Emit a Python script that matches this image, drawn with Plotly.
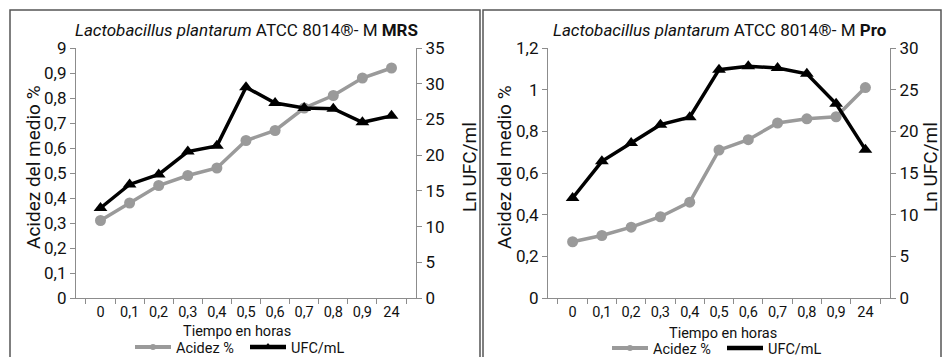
import plotly.graph_objects as go

# ---------------- data ----------------
categories = ["0", "0,1", "0,2", "0,3", "0,4", "0,5", "0,6", "0,7", "0,8", "0,9", "24"]

mrs_acidez = [0.31, 0.38, 0.45, 0.49, 0.52, 0.63, 0.67, 0.76, 0.81, 0.88, 0.92]
mrs_ufc = [12.6, 15.9, 17.3, 20.5, 21.3, 29.5, 27.3, 26.6, 26.5, 24.6, 25.5]

pro_acidez = [0.27, 0.30, 0.34, 0.39, 0.46, 0.71, 0.76, 0.84, 0.86, 0.87, 1.01]
pro_ufc = [12.0, 16.4, 18.6, 20.8, 21.7, 27.4, 27.8, 27.6, 26.9, 23.3, 17.8]

mrs_left_tickvals = [0, 0.1, 0.2, 0.3, 0.4, 0.5, 0.6, 0.7, 0.8, 0.9, 1.0]
mrs_left_ticktext = ["0", "0,1", "0,2", "0,3", "0,4", "0,5", "0,6", "0,7", "0,8", "0,9", "9"]
mrs_right_tickvals = [0, 5, 10, 15, 20, 25, 30, 35]

pro_left_tickvals = [0, 0.2, 0.4, 0.6, 0.8, 1.0, 1.2]
pro_left_ticktext = ["0", "0,2", "0,4", "0,6", "0,8", "1", "1,2"]
pro_right_tickvals = [0, 5, 10, 15, 20, 25, 30]

title_mrs = "<i>Lactobacillus plantarum</i> ATCC 8014®- M <b>MRS</b>"
title_pro = "<i>Lactobacillus plantarum</i> ATCC 8014®- M <b>Pro</b>"
xtitle = "Tiempo en horas"
ylabel_left = "Acidez del medio %"
ylabel_right = "Ln UFC/ml"
name_acid = "Acidez %"
name_ufc = "UFC/mL"

# ---------------- style ----------------
FONT = "Roboto, sans-serif"
GREY = "#9a9a9a"
AXC = "#8c8c8c"
TXT = "#111"
W, H = 945, 357


def px_x(v):
    return v / W


def px_y(v):
    return 1 - v / H


fig = go.Figure()

# left panel
fig.add_trace(go.Scatter(x=categories, y=mrs_acidez, name=name_acid, mode="lines+markers",
                         line=dict(color=GREY, width=3.5), marker=dict(symbol="circle", size=11, color=GREY),
                         xaxis="x", yaxis="y", showlegend=False))
fig.add_trace(go.Scatter(x=categories, y=mrs_ufc, name=name_ufc, mode="lines+markers",
                         line=dict(color="black", width=3.5), marker=dict(symbol="triangle-up", size=12, color="black"),
                         xaxis="x", yaxis="y2", showlegend=False))
# right panel
fig.add_trace(go.Scatter(x=categories, y=pro_acidez, name=name_acid, mode="lines+markers",
                         line=dict(color=GREY, width=3.5), marker=dict(symbol="circle", size=11, color=GREY),
                         xaxis="x2", yaxis="y3", showlegend=False))
fig.add_trace(go.Scatter(x=categories, y=pro_ufc, name=name_ufc, mode="lines+markers",
                         line=dict(color="black", width=3.5), marker=dict(symbol="triangle-up", size=12, color="black"),
                         xaxis="x2", yaxis="y4", showlegend=False))

# legend entries (legend-only traces, smaller symbols as in the original)
fig.add_trace(go.Scatter(x=[None], y=[None], name=name_acid, mode="lines+markers",
                         line=dict(color=GREY, width=4), marker=dict(symbol="circle", size=6, color=GREY),
                         xaxis="x", yaxis="y", legend="legend"))
fig.add_trace(go.Scatter(x=[None], y=[None], name=name_ufc, mode="lines+markers",
                         line=dict(color="black", width=4.5), marker=dict(symbol="triangle-up", size=8, color="black"),
                         xaxis="x", yaxis="y2", legend="legend"))
fig.add_trace(go.Scatter(x=[None], y=[None], name=name_acid, mode="lines+markers",
                         line=dict(color=GREY, width=4), marker=dict(symbol="circle", size=6, color=GREY),
                         xaxis="x2", yaxis="y3", legend="legend2"))
fig.add_trace(go.Scatter(x=[None], y=[None], name=name_ufc, mode="lines",
                         line=dict(color="black", width=4.5),
                         xaxis="x2", yaxis="y4", legend="legend2"))

common_x = dict(type="category", tickson="boundaries", ticks="outside", ticklen=5, tickcolor=AXC,
                showline=True, linecolor=AXC, linewidth=1.2, showgrid=False, zeroline=False,
                tickangle=0, tickfont=dict(family=FONT, size=14.5, color=TXT), fixedrange=True, automargin=False)
common_y = dict(ticks="outside", ticklen=5, tickcolor=AXC, showline=True, linecolor=AXC, linewidth=1.2,
                showgrid=False, zeroline=False, tickfont=dict(family=FONT, size=17, color=TXT),
                fixedrange=True, automargin=False)

ydom = [px_y(298), px_y(48)]

legend_common = dict(orientation="h", xanchor="center", yanchor="middle",
                     font=dict(family=FONT, size=14.5, color=TXT), itemwidth=36, tracegroupgap=0,
                     entrywidth=64, entrywidthmode="pixels",
                     bgcolor="rgba(0,0,0,0)", itemclick=False, itemdoubleclick=False)

fig.update_layout(
    width=W, height=H,
    margin=dict(l=0, r=0, t=0, b=0, autoexpand=False),
    paper_bgcolor="white", plot_bgcolor="white",
    font=dict(family=FONT, color=TXT),
    xaxis=dict(domain=[px_x(76), px_x(416)], anchor="y", **common_x),
    yaxis=dict(domain=ydom, anchor="x", range=[0, 1.0], tickvals=mrs_left_tickvals,
               ticktext=mrs_left_ticktext, **common_y),
    yaxis2=dict(overlaying="y", side="right", anchor="x", range=[0, 35], tickvals=mrs_right_tickvals, **common_y),
    xaxis2=dict(domain=[px_x(548), px_x(890)], anchor="y3", **common_x),
    yaxis3=dict(domain=ydom, anchor="x2", range=[0, 1.2], tickvals=pro_left_tickvals,
                ticktext=pro_left_ticktext, **common_y),
    yaxis4=dict(overlaying="y3", side="right", anchor="x2", range=[0, 30], tickvals=pro_right_tickvals, **common_y),
    legend=dict(x=px_x(245), y=px_y(347), **legend_common),
    legend2=dict(x=px_x(722), y=px_y(348), **legend_common),
    showlegend=True,
)

ann = []


def add_text(text, x, y, size, angle=0):
    ann.append(dict(text=text, x=px_x(x), y=px_y(y), xref="paper", yref="paper", showarrow=False,
                    xanchor="center", yanchor="middle", textangle=angle,
                    font=dict(family=FONT, size=size, color=TXT)))


add_text(title_mrs, 246, 30, 17)
add_text(title_pro, 720, 30, 17)
add_text(xtitle, 237, 331, 14.5)
add_text(xtitle, 723, 333, 14.5)
add_text(ylabel_left, 33, 167, 19, -90)
add_text(ylabel_right, 469, 167, 19, -90)
add_text(ylabel_left, 504, 167, 19, -90)
add_text(ylabel_right, 930, 167, 19, -90)
fig.update_layout(annotations=ann)

fig.update_layout(shapes=[
    dict(type="rect", xref="paper", yref="paper", x0=px_x(10), x1=px_x(480), y0=px_y(365), y1=px_y(10),
         line=dict(color="#555", width=1.5)),
    dict(type="rect", xref="paper", yref="paper", x0=px_x(483), x1=px_x(941), y0=px_y(365), y1=px_y(10),
         line=dict(color="#555", width=1.5)),
])

fig.write_html("out.html", config={"displayModeBar": False},
               post_script="document.body.style.margin='0';document.body.style.overflow='hidden';")
